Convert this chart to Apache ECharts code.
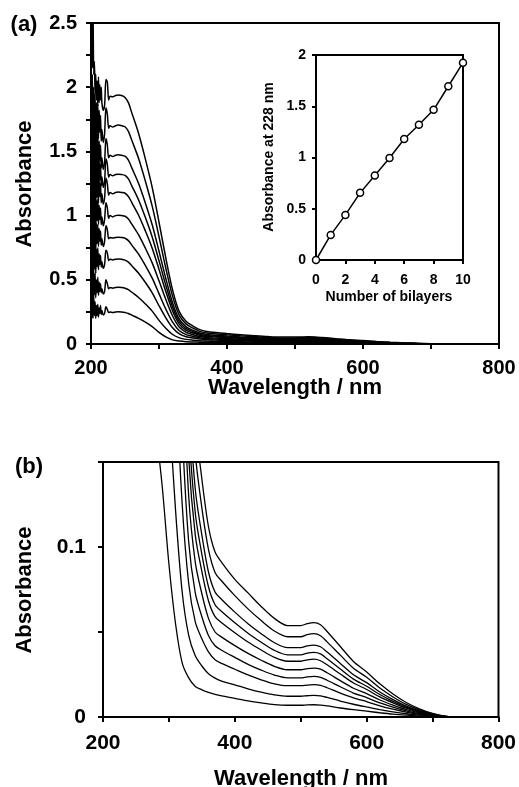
<!DOCTYPE html>
<html><head><meta charset="utf-8">
<script src="https://cdn.jsdelivr.net/npm/echarts@6/dist/echarts.min.js"></script>
<style>html,body{margin:0;padding:0;background:#fff}#c{width:519px;height:787px}</style>
</head><body><div id="c"></div>
<script>
// ---- data ----
const wavelength = [200,201,202,203,204,205,206,207,208,209,210,211,212,213,214,215,216,
  218,220,222,224,226,228,232,236,240,245,250,255,260,
  270,280,290,300,310,320,330,340,350,360,370,380,
  400,420,440,460,480,500,510,520,530,540,
  560,580,600,620,640,660,680,700,720,740,800];

const bilayer1 = [0.42,0.2,0.35,0.2,0.38,0.22,0.33,0.2,0.3,0.22,0.31,0.21,0.28,0.24,0.3,0.23,0.26,
  0.225,0.24,0.29,0.27,0.245,0.25,0.245,0.25,0.252,0.25,0.245,0.238,0.225,
  0.2,0.17,0.135,0.09,0.055,0.032,0.023,0.018,0.016,0.0145,0.0133,0.0124,
  0.011,0.0095,0.0083,0.0073,0.0069,0.0069,0.0071,0.0072,0.007,0.0065,
  0.0053,0.0043,0.0034,0.0025,0.0017,0.0011,0.0006,0.0003,0,0,0];
const bilayer2 = [0.7,0.25,0.62,0.3,0.58,0.38,0.55,0.36,0.5,0.4,0.52,0.38,0.48,0.41,0.47,0.4,0.43,
  0.39,0.41,0.5,0.47,0.43,0.44,0.435,0.44,0.442,0.44,0.434,0.423,0.403,
  0.362,0.312,0.256,0.184,0.122,0.074,0.048,0.036,0.030,0.0255,0.0229,0.0211,
  0.0189,0.0166,0.0146,0.013,0.0122,0.0122,0.0125,0.0127,0.0124,0.0115,
  0.0094,0.0075,0.0059,0.0044,0.003,0.0019,0.0011,0.0005,0.0001,0,0];
const bilayer3 = [0.9,0.45,0.85,0.5,0.82,0.58,0.78,0.55,0.74,0.6,0.75,0.58,0.7,0.62,0.69,0.6,0.64,
  0.59,0.62,0.73,0.71,0.65,0.66,0.655,0.66,0.662,0.66,0.653,0.638,0.609,
  0.551,0.479,0.399,0.298,0.204,0.126,0.0785,0.056,0.046,0.0383,0.0337,0.0315,
  0.0281,0.0248,0.0219,0.0195,0.0184,0.0184,0.0188,0.019,0.0186,0.0172,
  0.0141,0.0113,0.009,0.0066,0.0046,0.0029,0.0016,0.0007,0.0001,0,0];
const bilayer4 = [1.15,0.6,1.05,0.7,1.0,0.75,0.98,0.72,0.94,0.78,0.93,0.76,0.9,0.8,0.88,0.77,0.82,
  0.76,0.8,0.92,0.89,0.82,0.83,0.825,0.83,0.832,0.83,0.824,0.805,0.77,
  0.7,0.611,0.513,0.392,0.272,0.17,0.103,0.073,0.059,0.048,0.0419,0.0393,
  0.0351,0.031,0.0276,0.0247,0.023,0.023,0.0236,0.0239,0.0233,0.0216,
  0.0178,0.0141,0.0114,0.0083,0.0058,0.0036,0.002,0.0009,0.0002,0,0];
const bilayer5 = [1.4,0.8,1.3,0.85,1.22,0.95,1.18,0.9,1.12,0.96,1.13,0.93,1.08,0.97,1.06,0.93,0.99,
  0.92,0.97,1.1,1.06,0.98,1.0,0.99,1.0,1.003,1.0,0.995,0.974,0.933,
  0.85,0.746,0.632,0.492,0.347,0.218,0.13,0.091,0.0725,0.058,0.05,0.047,
  0.042,0.0374,0.0334,0.0298,0.0278,0.0278,0.0285,0.0288,0.0281,0.026,
  0.0214,0.0169,0.0137,0.01,0.007,0.0044,0.0025,0.0011,0.0002,0,0];
const bilayer6 = [1.6,1.0,1.5,1.05,1.42,1.12,1.38,1.08,1.32,1.14,1.33,1.1,1.28,1.15,1.25,1.1,1.17,
  1.09,1.14,1.29,1.25,1.16,1.18,1.17,1.18,1.183,1.18,1.174,1.149,1.101,
  1.003,0.88,0.746,0.581,0.409,0.257,0.153,0.107,0.0856,0.0684,0.059,0.0555,
  0.0496,0.0441,0.0394,0.0351,0.0328,0.0328,0.0336,0.034,0.0331,0.0307,
  0.0253,0.02,0.0162,0.0118,0.0083,0.0052,0.0029,0.0013,0.0002,0,0];
const bilayer7 = [1.8,1.1,1.7,1.2,1.6,1.25,1.55,1.22,1.48,1.28,1.48,1.24,1.43,1.28,1.4,1.23,1.3,
  1.22,1.27,1.44,1.4,1.3,1.32,1.31,1.32,1.323,1.32,1.313,1.286,1.232,
  1.122,0.985,0.834,0.649,0.458,0.288,0.172,0.12,0.0957,0.0766,0.066,0.062,
  0.0554,0.0493,0.044,0.0392,0.0366,0.0366,0.0376,0.038,0.0371,0.0343,
  0.0283,0.0223,0.0181,0.0132,0.0092,0.0058,0.0033,0.0014,0.0003,0,0];
const bilayer8 = [2.0,1.25,1.9,1.35,1.8,1.4,1.72,1.36,1.65,1.42,1.64,1.38,1.58,1.43,1.55,1.37,1.45,
  1.36,1.42,1.6,1.55,1.45,1.47,1.46,1.47,1.474,1.47,1.463,1.432,1.372,
  1.25,1.097,0.929,0.723,0.51,0.32,0.191,0.134,0.107,0.0853,0.0735,0.0691,
  0.0617,0.0549,0.049,0.0437,0.0408,0.0408,0.0419,0.0423,0.0413,0.0382,
  0.0315,0.0248,0.0202,0.0147,0.0102,0.0064,0.0036,0.0016,0.0003,0,0];
const bilayer9 = [2.2,1.45,2.1,1.55,2.0,1.6,1.95,1.58,1.88,1.64,1.87,1.6,1.82,1.65,1.78,1.58,1.67,
  1.57,1.64,1.84,1.79,1.68,1.7,1.69,1.7,1.705,1.7,1.692,1.656,1.586,
  1.445,1.268,1.074,0.836,0.59,0.371,0.221,0.155,0.123,0.0986,0.085,0.08,
  0.0714,0.0636,0.0567,0.0506,0.0472,0.0472,0.0485,0.049,0.0478,0.0442,
  0.0364,0.0287,0.0234,0.017,0.0118,0.0074,0.0042,0.0018,0.0003,0,0];
const bilayer10 = [2.3,2.6,2.15,2.6,2.1,2.2,1.95,2.1,1.9,2.05,1.85,2.08,1.88,2.02,1.9,2.0,1.88,
  1.82,1.86,2.06,2.04,1.9,1.93,1.925,1.935,1.94,1.935,1.92,1.88,1.8,
  1.64,1.44,1.22,0.95,0.67,0.42,0.25,0.175,0.14,0.112,0.097,0.091,
  0.081,0.073,0.065,0.058,0.0538,0.0538,0.0549,0.0555,0.0543,0.0503,
  0.0415,0.0327,0.0265,0.0195,0.0135,0.0085,0.0048,0.0021,0.0004,0,0];

const bilayerCount = [0,1,2,3,4,5,6,7,8,9,10];
const absorbance228 = [0,0.245,0.44,0.655,0.825,0.995,1.18,1.32,1.465,1.695,1.925];

const wavelengthTickLabels = [200,400,600,800];
const topAbsTickLabels = [0,0.5,1,1.5,2,2.5];
const bottomAbsTickLabels = [0,0.1];
const insetXTickLabels = [0,2,4,6,8,10];
const insetYTickLabels = [0,0.5,1,1.5,2];

// ---- chart ----
const FONT = '"Liberation Sans", Arial, Helvetica, sans-serif';
const spectra = [bilayer1,bilayer2,bilayer3,bilayer4,bilayer5,bilayer6,bilayer7,bilayer8,bilayer9,bilayer10];
const pairs = arr => wavelength.map((w, i) => [w, arr[i]]);
const only = list => v => list.some(t => Math.abs(t - v) < 1e-9) ? String(+v.toFixed(2)) : '';

function axis(extra, fontSize, margin, labels, tickLen) {
  return Object.assign({
    type: 'value',
    axisLine: { show: true, onZero: false, lineStyle: { color: '#000', width: 2 } },
    axisTick: { show: true, length: tickLen, lineStyle: { color: '#000', width: 2 } },
    splitLine: { show: false },
    axisLabel: { color: '#000', fontWeight: 'bold', fontFamily: FONT, fontSize: fontSize, margin: margin, formatter: only(labels), showMinLabel: true, showMaxLabel: true }
  }, extra);
}

const series = [];
spectra.forEach((s, k) => {
  series.push({ type: 'line', xAxisIndex: 0, yAxisIndex: 0, data: pairs(s), showSymbol: false, smooth: 0.3,
    lineStyle: { color: '#000', width: 1.5 }, clip: true, z: 2 });
  series.push({ type: 'line', xAxisIndex: 2, yAxisIndex: 2, data: pairs(s), showSymbol: false, smooth: 0.3,
    lineStyle: { color: '#000', width: 1.3 }, clip: true, z: 2 });
});
series.push({ type: 'line', xAxisIndex: 1, yAxisIndex: 1, data: bilayerCount.map((n, i) => [n, absorbance228[i]]),
  symbol: 'circle', symbolSize: 7, showSymbol: true,
  itemStyle: { color: '#fff', borderColor: '#000', borderWidth: 1.5 },
  lineStyle: { color: '#000', width: 1.5 }, clip: false, z: 5 });

const txt = (text, x, y, size, rot) => ({
  type: 'text', x: x, y: y, rotation: rot || 0, z: 10,
  style: { text: text, fill: '#000', font: 'bold ' + size + 'px ' + FONT, textAlign: 'center', textVerticalAlign: 'middle' }
});

const option = {
  animation: false,
  backgroundColor: '#fff',
  grid: [
    { left: 91, top: 23, width: 408, height: 321, show: true, borderColor: '#000', borderWidth: 2, backgroundColor: 'transparent' },
    { left: 316, top: 55, width: 147, height: 205, show: true, borderColor: '#000', borderWidth: 2, backgroundColor: 'transparent' },
    { left: 103, top: 462, width: 397, height: 255, show: true, borderColor: '#000', borderWidth: 2, backgroundColor: 'transparent' }
  ],
  xAxis: [
    axis({ gridIndex: 0, min: 200, max: 800, interval: 100 }, 20, 14, wavelengthTickLabels, 5),
    axis({ gridIndex: 1, min: 0, max: 10, interval: 2 }, 14, 13, insetXTickLabels, 4),
    axis({ gridIndex: 2, min: 200, max: 800, interval: 100 }, 21, 16, wavelengthTickLabels, 5)
  ],
  yAxis: [
    axis({ gridIndex: 0, min: 0, max: 2.5, interval: 0.25 }, 20, 14, topAbsTickLabels, 5),
    axis({ gridIndex: 1, min: 0, max: 2, interval: 0.5 }, 14, 10, insetYTickLabels, 4),
    axis({ gridIndex: 2, min: 0, max: 0.15, interval: 0.05 }, 21, 17, bottomAbsTickLabels, 5)
  ],
  series: series,
  graphic: [
    txt('(a)', 24, 25, 22),
    txt('(b)', 29, 467, 22),
    txt('Absorbance', 25, 184, 22, Math.PI / 2),
    txt('Absorbance', 25, 590, 22, Math.PI / 2),
    txt('Wavelength / nm', 295, 388, 22),
    txt('Wavelength / nm', 301, 779, 22),
    txt('Absorbance at 228 nm', 269, 157, 14, Math.PI / 2),
    txt('Number of bilayers', 389, 297, 14)
  ]
};
const chart = echarts.init(document.getElementById('c'), null, { renderer: 'canvas' });
chart.setOption(option);
</script>
</body></html>
